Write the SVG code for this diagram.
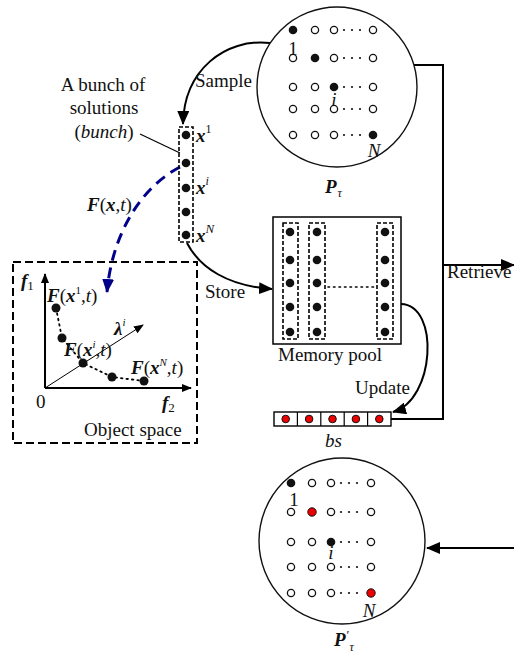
<svg xmlns="http://www.w3.org/2000/svg" width="514" height="653" viewBox="0 0 514 653">
<style>
text{font-family:"Liberation Serif","Times New Roman",serif;fill:#111;font-size:19px}
.bi{font-weight:bold;font-style:italic}
.it{font-style:italic}
.up{font-style:normal;font-weight:normal}
.fd{fill:#111}
.od{fill:#fff;stroke:#111;stroke-width:1.3}
.rd{fill:#e00;stroke:#111;stroke-width:1}
.el{fill:#111}
.circ{fill:#fff;stroke:#111;stroke-width:1.4}
.con{fill:none;stroke:#000;stroke-width:2}
.dbox{fill:none;stroke:#000;stroke-width:1.6;stroke-dasharray:4 2}
</style>
<defs>
<marker id="ahb" viewBox="0 0 14 12" refX="13" refY="6" markerWidth="14" markerHeight="12" markerUnits="userSpaceOnUse" orient="auto"><path d="M0,0L14,6L0,12z" fill="#000"/></marker>
<marker id="ahblue" viewBox="0 0 14 12" refX="13" refY="6" markerWidth="14" markerHeight="12" markerUnits="userSpaceOnUse" orient="auto"><path d="M0,0L14,6L0,12z" fill="#00008b"/></marker>
<marker id="ahs" viewBox="0 0 10 8" refX="9" refY="4" markerWidth="10" markerHeight="8" markerUnits="userSpaceOnUse" orient="auto"><path d="M0,0L10,4L0,8z" fill="#000"/></marker>
</defs>
<rect width="514" height="653" fill="#fff"/>

<g id="connectors">
<path class="con" d="M270,43 C225,38 184,70 183,124" marker-end="url(#ahb)"/>
<path class="con" d="M187,243 C200,268 228,286 272,289" marker-end="url(#ahb)"/>
<path class="con" d="M401,304 C440,305 435,400 393,412" marker-end="url(#ahb)"/>
<polyline class="con" points="414,65 443,65 443,419 391,419"/>
<path class="con" d="M443,265 L514,265" marker-end="url(#ahb)"/>
<path class="con" d="M514,548 L427,548" marker-end="url(#ahb)"/>
<path d="M180,167 C140,188 112,235 107,292" fill="none" stroke="#00008b" stroke-width="3" stroke-dasharray="11 7" marker-end="url(#ahblue)"/>
<path d="M140,134 L180,153" fill="none" stroke="#000" stroke-width="1.2"/>
</g>

<g id="population">
<circle class="circ" cx="337" cy="87" r="80"/>
<g>
<circle class="fd" cx="293" cy="30" r="4.3"/><circle class="od" cx="315" cy="30" r="3.6"/><circle class="od" cx="334" cy="30" r="3.6"/><circle class="od" cx="373" cy="30" r="3.6"/>
<circle class="od" cx="293" cy="58" r="3.6"/><circle class="fd" cx="315" cy="58" r="4.3"/><circle class="od" cx="334" cy="58" r="3.6"/><circle class="od" cx="373" cy="58" r="3.6"/>
<circle class="od" cx="293" cy="87" r="3.6"/><circle class="od" cx="315" cy="87" r="3.6"/><circle class="fd" cx="334" cy="87" r="4.3"/><circle class="od" cx="373" cy="87" r="3.6"/>
<circle class="od" cx="293" cy="109" r="3.6"/><circle class="od" cx="315" cy="109" r="3.6"/><circle class="od" cx="334" cy="109" r="3.6"/><circle class="od" cx="373" cy="109" r="3.6"/>
<circle class="od" cx="293" cy="135" r="3.6"/><circle class="od" cx="315" cy="135" r="3.6"/><circle class="od" cx="334" cy="135" r="3.6"/><circle class="fd" cx="373" cy="135" r="4.3"/>
</g>
<g class="el">
<circle cx="344" cy="30" r="1.1"/><circle cx="352" cy="30" r="1.1"/><circle cx="360" cy="30" r="1.1"/>
<circle cx="344" cy="58" r="1.1"/><circle cx="352" cy="58" r="1.1"/><circle cx="360" cy="58" r="1.1"/>
<circle cx="344" cy="87" r="1.1"/><circle cx="352" cy="87" r="1.1"/><circle cx="360" cy="87" r="1.1"/>
<circle cx="344" cy="109" r="1.1"/><circle cx="352" cy="109" r="1.1"/><circle cx="360" cy="109" r="1.1"/>
<circle cx="344" cy="135" r="1.1"/><circle cx="352" cy="135" r="1.1"/><circle cx="360" cy="135" r="1.1"/>
</g>
<text x="293" y="55" text-anchor="middle" font-size="19">1</text>
<text x="334" y="106" text-anchor="middle" class="it" font-size="17">i</text>
<text x="374" y="157" text-anchor="middle" class="it" font-size="19">N</text>
<text x="325" y="193" class="bi" font-size="20">P<tspan font-size="12" class="it" font-weight="normal" dx="1" dy="4">τ</tspan></text>
</g>

<g id="new-population">
<circle class="circ" cx="342" cy="541" r="83"/>
<g>
<circle class="fd" cx="291" cy="483" r="4.3"/><circle class="od" cx="312" cy="483" r="3.6"/><circle class="od" cx="331" cy="483" r="3.6"/><circle class="od" cx="371" cy="483" r="3.6"/>
<circle class="od" cx="291" cy="512" r="3.6"/><circle class="rd" cx="312" cy="512" r="4.2"/><circle class="od" cx="331" cy="512" r="3.6"/><circle class="od" cx="371" cy="512" r="3.6"/>
<circle class="od" cx="291" cy="542" r="3.6"/><circle class="od" cx="312" cy="542" r="3.6"/><circle class="fd" cx="331" cy="542" r="4.3"/><circle class="od" cx="371" cy="542" r="3.6"/>
<circle class="od" cx="291" cy="567" r="3.6"/><circle class="od" cx="312" cy="567" r="3.6"/><circle class="od" cx="331" cy="567" r="3.6"/><circle class="od" cx="371" cy="567" r="3.6"/>
<circle class="od" cx="291" cy="593" r="3.6"/><circle class="od" cx="312" cy="593" r="3.6"/><circle class="od" cx="331" cy="593" r="3.6"/><circle class="rd" cx="371" cy="593" r="4.2"/>
</g>
<g class="el">
<circle cx="341" cy="483" r="1.1"/><circle cx="349" cy="483" r="1.1"/><circle cx="357" cy="483" r="1.1"/>
<circle cx="341" cy="512" r="1.1"/><circle cx="349" cy="512" r="1.1"/><circle cx="357" cy="512" r="1.1"/>
<circle cx="341" cy="542" r="1.1"/><circle cx="349" cy="542" r="1.1"/><circle cx="357" cy="542" r="1.1"/>
<circle cx="341" cy="567" r="1.1"/><circle cx="349" cy="567" r="1.1"/><circle cx="357" cy="567" r="1.1"/>
<circle cx="341" cy="593" r="1.1"/><circle cx="349" cy="593" r="1.1"/><circle cx="357" cy="593" r="1.1"/>
</g>
<text x="294" y="506" text-anchor="middle" font-size="19">1</text>
<text x="331" y="559" text-anchor="middle" class="it" font-size="17">i</text>
<text x="369" y="617" text-anchor="middle" class="it" font-size="19">N</text>
<text x="334" y="646" class="bi" font-size="20">P<tspan font-size="13" class="up" dx="1" dy="-7">′</tspan><tspan font-size="12" class="it" font-weight="normal" dx="0" dy="12">τ</tspan></text>
</g>

<g id="bunch">
<rect class="dbox" x="179" y="127" width="14" height="115"/>
<circle class="fd" cx="186" cy="135" r="4.3"/><circle class="fd" cx="186" cy="163" r="4.3"/><circle class="fd" cx="186" cy="188" r="4.3"/><circle class="fd" cx="186" cy="212" r="4.3"/><circle class="fd" cx="186" cy="235" r="4.3"/>
<text x="196" y="142" class="bi" font-size="19">x<tspan font-size="12" class="up" dy="-9">1</tspan></text>
<text x="196" y="194" class="bi" font-size="19">x<tspan font-size="12" class="it" font-weight="normal" dy="-9">i</tspan></text>
<text x="196" y="242" class="bi" font-size="19">x<tspan font-size="13" class="it" font-weight="normal" dy="-9">N</tspan></text>
<text x="103" y="91" text-anchor="middle">A bunch of</text>
<text x="104" y="114" text-anchor="middle">solutions</text>
<text x="104" y="138" text-anchor="middle">(<tspan class="it">bunch</tspan>)</text>
<text x="87" y="211" font-size="19"><tspan class="bi">F</tspan>(<tspan class="bi">x</tspan>,<tspan class="it">t</tspan>)</text>
<text x="195" y="87">Sample</text>
<text x="205" y="298">Store</text>
</g>

<g id="object-space">
<rect x="13" y="262" width="184" height="181" fill="none" stroke="#000" stroke-width="2" stroke-dasharray="8 4"/>
<path class="con" d="M45,388 L45,274" marker-end="url(#ahs)"/>
<path class="con" d="M45,388 L191,388" marker-end="url(#ahs)"/>
<path d="M45,388 L143,325" fill="none" stroke="#000" stroke-width="1" marker-end="url(#ahs)"/>
<polyline points="56,308 62,338 83,363 112,377 144,381" fill="none" stroke="#000" stroke-width="1.8" stroke-dasharray="1.5 4" stroke-linecap="round"/>
<circle class="fd" cx="56" cy="308" r="4.5"/><circle class="fd" cx="62" cy="338" r="4.5"/><circle class="fd" cx="83" cy="363" r="4.5"/><circle class="fd" cx="112" cy="377" r="4.5"/><circle class="fd" cx="144" cy="381" r="4.5"/>
<text x="21" y="287" class="bi" font-size="19">f<tspan font-size="13" class="up" dy="3">1</tspan></text>
<text x="162" y="409" class="bi" font-size="19">f<tspan font-size="13" class="up" dy="3">2</tspan></text>
<text x="36" y="408" font-size="18">0</text>
<text x="114" y="335" class="bi" font-size="19">λ<tspan font-size="11" class="it" font-weight="normal" dy="-9">i</tspan></text>
<text x="47" y="302" font-size="18"><tspan class="bi">F</tspan>(<tspan class="bi">x</tspan><tspan font-size="11" dy="-8">1</tspan><tspan dy="8">,</tspan><tspan class="it">t</tspan>)</text>
<text x="64" y="356" font-size="18"><tspan class="bi">F</tspan>(<tspan class="bi">x</tspan><tspan font-size="11" class="it" dy="-8">i</tspan><tspan dy="8">,</tspan><tspan class="it">t</tspan>)</text>
<text x="131" y="374" font-size="18"><tspan class="bi">F</tspan>(<tspan class="bi">x</tspan><tspan font-size="11" class="it" dy="-8">N</tspan><tspan dy="8">,</tspan><tspan class="it">t</tspan>)</text>
<text x="84" y="436">Object space</text>
</g>

<g id="memory-pool">
<rect x="273" y="217" width="128" height="127" fill="#fff" stroke="#000" stroke-width="1.5"/>
<rect class="dbox" x="283" y="223" width="15" height="116"/>
<rect class="dbox" x="309" y="223" width="16" height="116"/>
<rect class="dbox" x="377" y="223" width="16" height="116"/>
<g class="fd">
<circle cx="290" cy="232" r="4.3"/><circle cx="290" cy="260" r="4.3"/><circle cx="290" cy="283" r="4.3"/><circle cx="290" cy="307" r="4.3"/><circle cx="290" cy="332" r="4.3"/>
<circle cx="317" cy="232" r="4.3"/><circle cx="317" cy="260" r="4.3"/><circle cx="317" cy="283" r="4.3"/><circle cx="317" cy="307" r="4.3"/><circle cx="317" cy="332" r="4.3"/>
<circle cx="385" cy="232" r="4.3"/><circle cx="385" cy="260" r="4.3"/><circle cx="385" cy="283" r="4.3"/><circle cx="385" cy="307" r="4.3"/><circle cx="385" cy="332" r="4.3"/>
</g>
<path d="M328,287 L374,287" stroke="#000" stroke-width="1.6" stroke-dasharray="1.5 4" stroke-linecap="round"/>
<text x="278" y="361">Memory pool</text>
<text x="355" y="394">Update</text>
</g>

<g id="bs">
<rect x="274" y="412" width="117" height="14" fill="#fff" stroke="#000" stroke-width="1.4"/>
<path d="M297.4,412v14M320.8,412v14M344.2,412v14M367.6,412v14" stroke="#000" stroke-width="1.2"/>
<circle class="rd" cx="285.7" cy="419" r="3.8"/><circle class="rd" cx="309.1" cy="419" r="3.8"/><circle class="rd" cx="332.5" cy="419" r="3.8"/><circle class="rd" cx="355.9" cy="419" r="3.8"/><circle class="rd" cx="379.3" cy="419" r="3.8"/>
<text x="325" y="447" class="it">bs</text>
</g>

<g id="retrieve">
<text x="447" y="278" font-size="18.5">Retrieve</text>
</g>
</svg>
